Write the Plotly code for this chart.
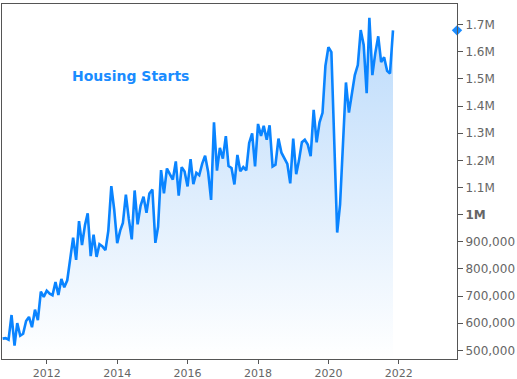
import pandas as pd
import plotly.graph_objects as go

# Monthly US housing starts (SAAR), Oct 2010 - Nov 2021
start_month = "2010-10-01"
starts_2010 = [543000, 545000, 539000]
starts_2011 = [630000, 517000, 600000, 554000, 561000, 608000, 623000, 585000, 650000, 611000, 716000, 697000]
starts_2012 = [720000, 709000, 703000, 752000, 704000, 763000, 732000, 758000, 847000, 915000, 833000, 976000]
starts_2013 = [888000, 962000, 1005000, 847000, 926000, 844000, 891000, 883000, 869000, 941000, 1105000, 1018000]
starts_2014 = [895000, 941000, 969000, 1074000, 985000, 909000, 1089000, 964000, 1033000, 1066000, 1007000, 1078000]
starts_2015 = [1092000, 896000, 955000, 1164000, 1078000, 1170000, 1149000, 1129000, 1196000, 1070000, 1175000, 1159000]
starts_2016 = [1104000, 1204000, 1112000, 1154000, 1145000, 1188000, 1217000, 1158000, 1054000, 1340000, 1162000, 1246000]
starts_2017 = [1206000, 1289000, 1179000, 1172000, 1111000, 1220000, 1160000, 1175000, 1163000, 1264000, 1299000, 1178000]
starts_2018 = [1334000, 1290000, 1327000, 1276000, 1329000, 1177000, 1184000, 1280000, 1228000, 1209000, 1187000, 1115000]
starts_2019 = [1280000, 1149000, 1198000, 1267000, 1276000, 1258000, 1215000, 1386000, 1266000, 1340000, 1375000, 1548000]
starts_2020 = [1617000, 1599000, 1272000, 934000, 1038000, 1273000, 1487000, 1376000, 1448000, 1514000, 1551000, 1680000]
starts_2021 = [1625000, 1447000, 1725000, 1514000, 1594000, 1657000, 1562000, 1580000, 1530000, 1520000, 1679000]

values = (starts_2010 + starts_2011 + starts_2012 + starts_2013 + starts_2014 + starts_2015
          + starts_2016 + starts_2017 + starts_2018 + starts_2019 + starts_2020 + starts_2021)
dates = pd.date_range(start_month, periods=len(values), freq="MS")

y_tick_vals = [500000, 600000, 700000, 800000, 900000, 1000000, 1100000, 1200000,
               1300000, 1400000, 1500000, 1600000, 1700000]
y_tick_text = ["500,000", "600,000", "700,000", "800,000", "900,000", "<b>1M</b>", "1.1M",
               "1.2M", "1.3M", "1.4M", "1.5M", "1.6M", "1.7M"]
x_tick_vals = ["2012-01-01", "2014-01-01", "2016-01-01", "2018-01-01", "2020-01-01", "2022-01-01"]
x_tick_text = ["2012", "2014", "2016", "2018", "2020", "2022"]

x_range = ["2010-09-24", "2023-08-27"]
y_range = [468000, 1776000]

title_text = "Housing Starts"
line_color = "#0a84ff"
axis_color = "#555555"
y_tick_font = dict(family="DejaVu Sans", size=12, color="#666666")
x_tick_font = dict(family="DejaVu Sans", size=11, color="#666666")

fig = go.Figure()
fig.add_trace(go.Scatter(
    x=dates, y=values, mode="lines",
    line=dict(color=line_color, width=2.6),
    fill="tozeroy",
    fillgradient=dict(type="vertical", start=y_range[0], stop=1700000,
                      colorscale=[[0, "rgba(255,255,255,1)"], [1, "#bcdbfb"]]),
    hoverinfo="skip", showlegend=False,
))
# last-value marker on the right axis
fig.add_trace(go.Scatter(
    x=[x_range[1]], y=[values[-1]], mode="markers",
    marker=dict(symbol="diamond", size=8, color="#1a8cff"),
    cliponaxis=False, showlegend=False, hoverinfo="skip",
))

fig.update_layout(
    width=517, height=379,
    margin=dict(l=2, r=60, t=4, b=20, autoexpand=False),
    paper_bgcolor="white", plot_bgcolor="white",
    font=dict(family="DejaVu Sans"),
    xaxis=dict(range=x_range, type="date", showgrid=False, zeroline=False, automargin=False,
               showline=True, linecolor=axis_color, linewidth=1, mirror=True,
               ticks="outside", ticklen=4, tickcolor=axis_color,
               tickvals=x_tick_vals, ticktext=x_tick_text, tickfont=x_tick_font),
    yaxis=dict(range=y_range, side="right", showgrid=False, zeroline=False, automargin=False,
               showline=True, linecolor=axis_color, linewidth=1, mirror=True,
               ticks="outside", ticklen=5, tickcolor=axis_color,
               tickvals=y_tick_vals, ticktext=y_tick_text, tickfont=y_tick_font),
    annotations=[dict(text="<b>" + title_text + "</b>", xref="paper", yref="paper",
                      x=0.149, y=0.797, xanchor="left", yanchor="middle", showarrow=False,
                      font=dict(family="DejaVu Sans", size=14, color="#1a8cff"))],
)

fig.write_html("out.html", config={"displayModeBar": False},
               post_script="document.body.style.margin='0';")
